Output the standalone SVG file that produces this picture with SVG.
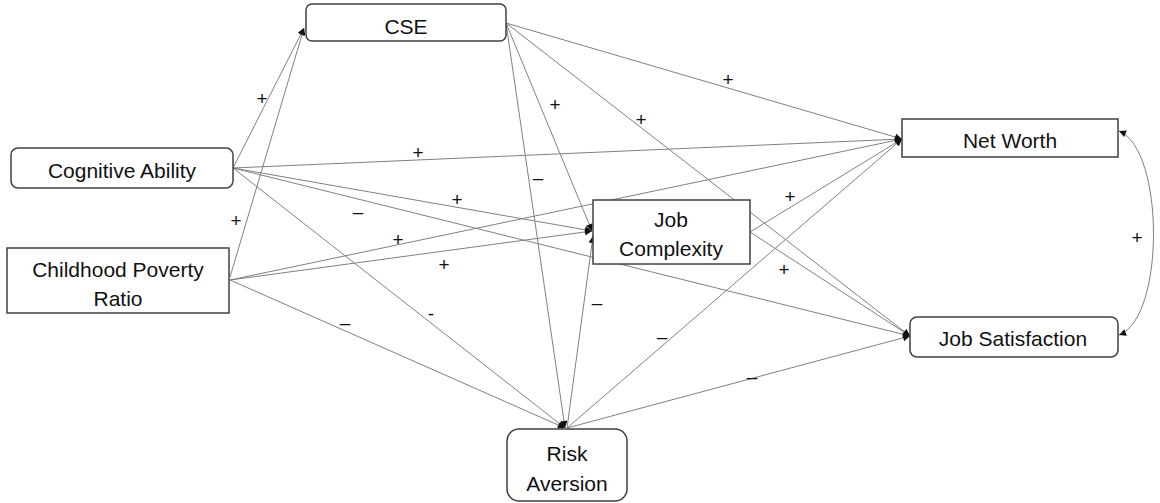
<svg xmlns="http://www.w3.org/2000/svg" width="1160" height="503" viewBox="0 0 1160 503">
<style>
.box{fill:#fff;stroke:#404040;stroke-width:1.5}
.t{font-family:"Liberation Sans",Arial,sans-serif;font-size:21px;fill:#111;text-anchor:middle}
.e{fill:none;stroke:#808080;stroke-width:1;marker-end:url(#ah)}
.l{font-family:"Liberation Sans",Arial,sans-serif;font-size:19px;fill:#111;text-anchor:middle}
</style>
<defs>
<marker id="ah" viewBox="0 0 10 10" refX="10" refY="5" markerWidth="8" markerHeight="7" markerUnits="userSpaceOnUse" orient="auto-start-reverse">
<path d="M0,0 L10,5 L0,10 z" fill="#111"/>
</marker>
</defs>
<rect width="1160" height="503" fill="#fff"/>
<g id="connectors">
<line class="e" x1="233" y1="168" x2="304" y2="28"/>
<line class="e" x1="230" y1="277" x2="304" y2="28"/>
<line class="e" x1="233" y1="168" x2="902" y2="139"/>
<line class="e" x1="233" y1="168" x2="592" y2="231"/>
<line class="e" x1="233" y1="168" x2="910" y2="336"/>
<line class="e" x1="233" y1="168" x2="565" y2="428"/>
<line class="e" x1="230" y1="280" x2="902" y2="139"/>
<line class="e" x1="230" y1="280" x2="592" y2="231"/>
<line class="e" x1="230" y1="280" x2="565" y2="428"/>
<line class="e" x1="506" y1="23" x2="902" y2="139"/>
<line class="e" x1="506" y1="23" x2="910" y2="336"/>
<line class="e" x1="506" y1="23" x2="592" y2="231"/>
<line class="e" x1="506" y1="23" x2="565" y2="428"/>
<line class="e" x1="750" y1="232" x2="902" y2="139"/>
<line class="e" x1="750" y1="232" x2="910" y2="336"/>
<line class="e" x1="567" y1="428" x2="593" y2="236"/>
<line class="e" x1="567" y1="428" x2="902" y2="139"/>
<line class="e" x1="567" y1="428" x2="910" y2="336"/>
<path class="e" d="M1119,131 C1165,150 1165,318 1119,335" marker-start="url(#ah)"/>
<text class="l" x="262" y="105">+</text>
<text class="l" x="236" y="227">+</text>
<text class="l" x="418" y="159">+</text>
<text class="l" x="358" y="218">–</text>
<text class="l" x="457" y="206">+</text>
<text class="l" x="398" y="246">+</text>
<text class="l" x="444" y="271">+</text>
<text class="l" x="345" y="329">–</text>
<text class="l" x="431" y="320">-</text>
<text class="l" x="555" y="111">+</text>
<text class="l" x="641" y="126">+</text>
<text class="l" x="728" y="86">+</text>
<text class="l" x="538" y="184">–</text>
<text class="l" x="790" y="203">+</text>
<text class="l" x="784" y="276">+</text>
<text class="l" x="597" y="309">–</text>
<text class="l" x="662" y="343">–</text>
<text class="l" x="752" y="383">–</text>
<text class="l" x="1137" y="244">+</text>
</g>
<g id="cse"><rect class="box" x="306" y="4" width="200" height="37" rx="6"/><text class="t" x="406" y="34">CSE</text></g>
<g id="cognitive"><rect class="box" x="11" y="148" width="222" height="40" rx="7"/><text class="t" x="122" y="178">Cognitive Ability</text></g>
<g id="poverty"><rect class="box" x="7" y="248" width="222" height="65"/><text class="t" x="118" y="277">Childhood Poverty</text><text class="t" x="118" y="306">Ratio</text></g>
<g id="jobcomplexity"><rect class="box" x="593" y="200" width="157" height="64"/><text class="t" x="671" y="227">Job</text><text class="t" x="671" y="256">Complexity</text></g>
<g id="networth"><rect class="box" x="902" y="119" width="216" height="38"/><text class="t" x="1010" y="148">Net Worth</text></g>
<g id="jobsatisfaction"><rect class="box" x="910" y="317" width="208" height="40" rx="7"/><text class="t" x="1013" y="346">Job Satisfaction</text></g>
<g id="risk"><rect class="box" x="507" y="429" width="120" height="72" rx="12"/><text class="t" x="567" y="461">Risk</text><text class="t" x="567" y="491">Aversion</text></g>
</svg>
